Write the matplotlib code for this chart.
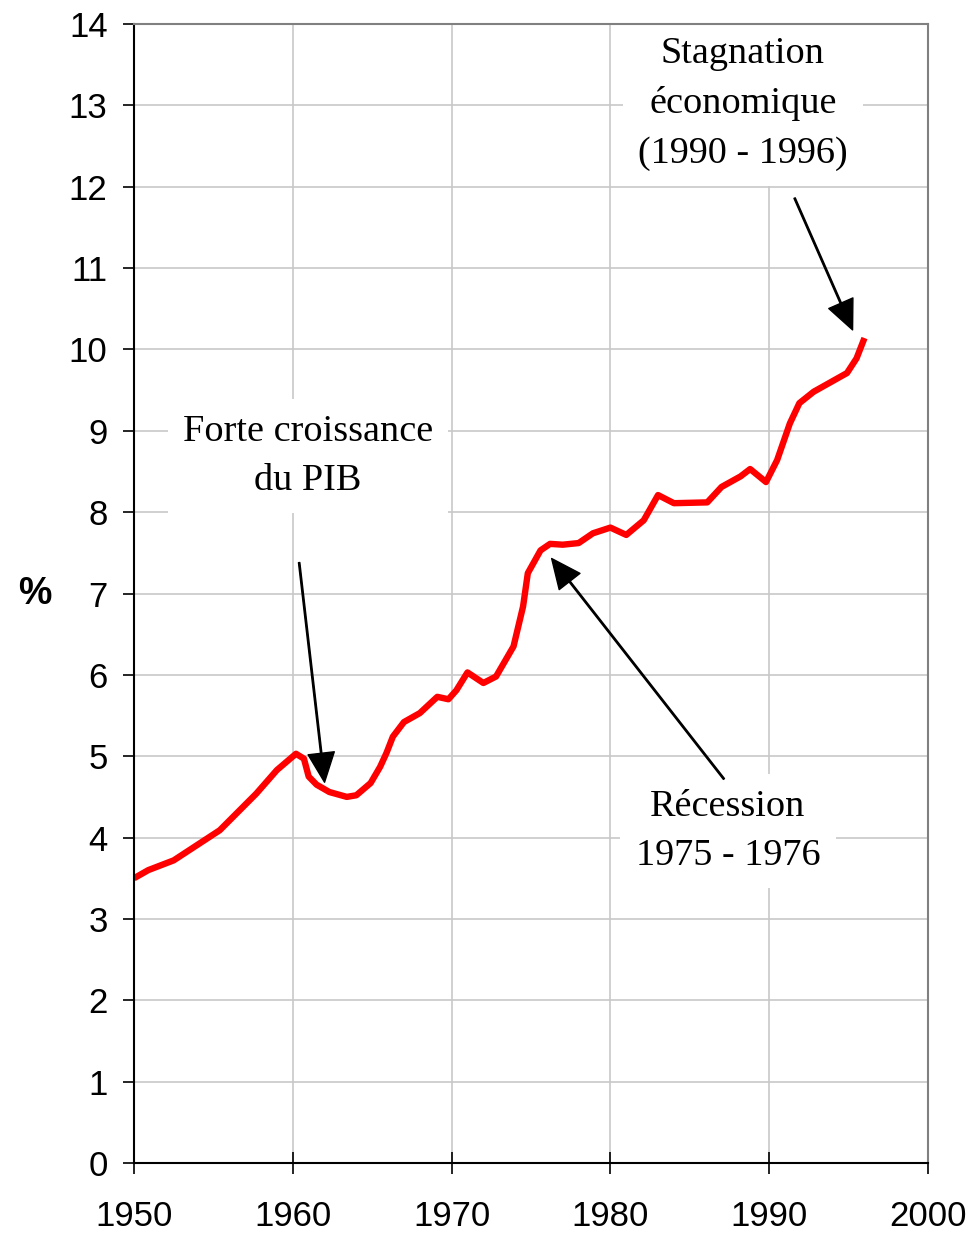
import matplotlib.pyplot as plt

# données
annees = [1950.0, 1950.9, 1952.5, 1955.4, 1957.7, 1959.0, 1960.2, 1960.7, 1961.0, 1961.5,
          1962.3, 1963.4, 1964.0, 1964.9, 1965.5, 1965.9, 1966.3, 1967.0, 1968.0, 1969.1,
          1969.8, 1970.3, 1971.0, 1972.0, 1972.8, 1973.9, 1974.5, 1974.8, 1975.6, 1976.2,
          1977.0, 1978.0, 1978.9, 1980.0, 1981.0, 1982.1, 1983.0, 1984.0, 1986.1, 1987.0,
          1988.2, 1988.8, 1989.8, 1990.5, 1991.3, 1991.9, 1992.8, 1994.9, 1995.5, 1996.0]
taux = [3.50, 3.60, 3.72, 4.09, 4.54, 4.83, 5.03, 4.97, 4.75, 4.65,
        4.56, 4.50, 4.52, 4.67, 4.87, 5.04, 5.24, 5.42, 5.53, 5.73,
        5.70, 5.81, 6.03, 5.90, 5.98, 6.35, 6.84, 7.25, 7.53, 7.61,
        7.60, 7.62, 7.74, 7.81, 7.72, 7.90, 8.21, 8.11, 8.12, 8.31,
        8.44, 8.53, 8.37, 8.64, 9.09, 9.34, 9.48, 9.71, 9.89, 10.14]

x_ticks = list(range(1950, 2001, 10))
y_ticks = list(range(0, 15))

# annotations : texte, position du texte, départ et pointe de la flèche
notes = [
    ("Forte croissance\ndu PIB", (1960.96, 8.69), (1960.4, 7.38), (1962.0, 4.68)),
    ("Stagnation\néconomique\n(1990 - 1996)", (1988.35, 13.02), (1991.6, 11.86), (1995.25, 10.24)),
    ("Récession\n1975 - 1976", (1987.4, 4.08), (1987.15, 4.72), (1976.3, 7.43)),
]

fig = plt.figure(figsize=(9.7, 12.34), dpi=100)
ax = fig.add_axes([134/970, 1 - 1163/1234, (928 - 134)/970, (1163 - 24)/1234])

ax.plot(annees, taux, color='#ff0000', lw=4.6, solid_joinstyle='round',
        solid_capstyle='butt', zorder=3)

ax.set_xlim(1950, 2000)
ax.set_ylim(0, 14)
ax.set_xticks(x_ticks)
ax.set_yticks(y_ticks)
ax.grid(True, color='#c8c8c8', lw=1.2)
ax.set_axisbelow(True)

ax.tick_params(axis='x', direction='inout', length=16, width=1.2, pad=19,
               labelsize=25, labelfontfamily='Liberation Sans')
ax.tick_params(axis='y', direction='out', length=8, width=1.2, pad=11,
               labelsize=25, labelfontfamily='Liberation Sans')

ax.spines['left'].set_color('black')
ax.spines['bottom'].set_color('black')
ax.spines['top'].set_color('#808080')
ax.spines['right'].set_color('#808080')
for s in ax.spines.values():
    s.set_linewidth(1.5)
    s.set_zorder(6)

for texte, pos, depart, pointe in notes:
    ax.text(pos[0], pos[1], texte, ha='center', va='center', fontsize=27.5,
            family='Liberation Serif', linespacing=1.55, zorder=4, clip_on=True,
            bbox=dict(boxstyle='square,pad=0.4', facecolor='white', edgecolor='none'))
    ax.annotate('', xy=pointe, xytext=depart, zorder=5,
                arrowprops=dict(facecolor='black', edgecolor='black', width=1.0,
                                headwidth=19, headlength=21, shrink=0))

fig.text(35/970, 1 - 594/1234, '%', ha='center', va='center', fontsize=27,
         fontweight='bold', family='Liberation Sans')

fig.savefig('out.png', dpi=100)
